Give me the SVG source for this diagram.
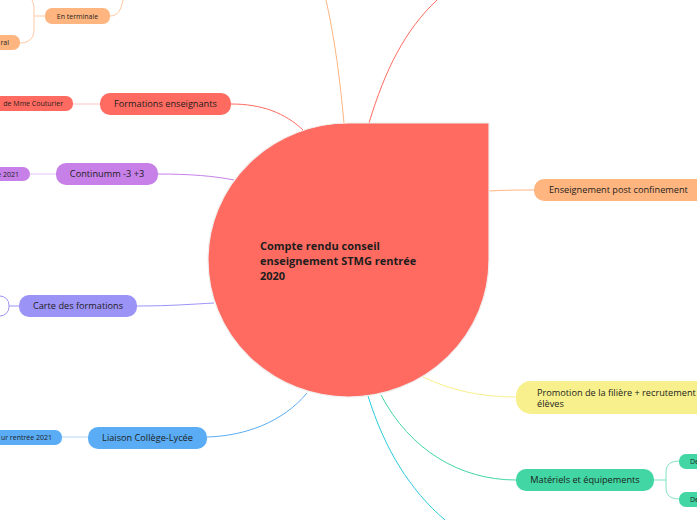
<svg xmlns="http://www.w3.org/2000/svg" width="697" height="520" viewBox="0 0 697 520">
<style>
text{font-family:"Open Sans","Noto Sans","Liberation Sans",sans-serif;fill:#1d1d1d}
.t{font-size:9.2px}
.s{font-size:7px}
.b{font-size:11px;font-weight:bold}
.c{fill:none;stroke-width:1}
</style>
<rect width="697" height="520" fill="#ffffff"/>
<g id="connectors">
<path class="c" stroke="#FFB580" d="M344,123 C340,80 335,40 326,0"/>
<path class="c" stroke="#FF6B61" d="M369,123 C385,70 405,30 437,0"/>
<path class="c" stroke="#FF6B61" d="M231,104 C262,104 285,113 303,130"/>
<path class="c" stroke="#C680E8" d="M158,174 C190,174 214,176 234,180"/>
<path class="c" stroke="#9C93F7" d="M137,306 C170,306 195,304 214,303"/>
<path class="c" stroke="#5AACF5" d="M207,437 C245,436 283,422 307,393"/>
<path class="c" stroke="#FFB580" d="M489,191 C505,190 520,190 534,190"/>
<path class="c" stroke="#F7F08C" d="M423,377 C450,390 480,397 516,397"/>
<path class="c" stroke="#41D6A3" d="M381,395 C410,450 460,480 516,480"/>
<path class="c" stroke="#2ACBDD" d="M368,396 C385,450 410,490 445,520"/>
<path class="c" stroke="#FFC7C3" d="M73,104 H100"/>
<path class="c" stroke="#E2C2F3" d="M30,174 H56"/>
<path class="c" stroke="#9C93F7" d="M9,306 H19"/>
<path class="c" stroke="#B5D7FA" d="M62,437 H88"/>
<path class="c" stroke="#7FE3C1" d="M654,480 H666 M680,461 C670,461 666,465 666,472 V488 C666,495 670,499 680,499"/>
<path class="c" stroke="#FFC9A3" d="M20,43 C29,43 34,38 34,30 V10 C34,5 33,2 32,0 M34,16 H45"/>
<path class="c" stroke="#FFC9A3" d="M110,16 C118,16 121,10 123,0"/>
</g>
<g id="central">
<path d="M349,123 H489 V260 A140.5,137 0 0 1 348.5,397 A140.5,137 0 0 1 208,260 A140.5,137 0 0 1 349,123 Z" fill="#FF6B61" stroke="#f0eded" stroke-width="1.2"/>
<text class="b" x="260" y="250">Compte rendu conseil</text>
<text class="b" x="260" y="265">enseignement STMG rentrée</text>
<text class="b" x="260" y="280">2020</text>
</g>
<g id="formations">
<rect x="100" y="93" width="131" height="22" rx="10" fill="#FF6B61"/>
<text class="t" x="165.5" y="107.3" text-anchor="middle">Formations enseignants</text>
</g>
<g id="formations-child">
<rect x="-60" y="96" width="133" height="15" rx="7" fill="#FF6B61"/>
<text class="s" x="63" y="106" text-anchor="end">de Mme Couturier</text>
</g>
<g id="continuum">
<rect x="56" y="163" width="102" height="22" rx="10" fill="#C680E8"/>
<text class="t" x="107" y="177.3" text-anchor="middle">Continumm -3 +3</text>
</g>
<g id="continuum-child">
<rect x="-60" y="167" width="90" height="14" rx="7" fill="#C680E8"/>
<text class="s" x="19" y="177" text-anchor="end">e 2021</text>
</g>
<g id="carte">
<rect x="19" y="295" width="118" height="22" rx="10" fill="#9C93F7"/>
<text class="t" x="78" y="309.3" text-anchor="middle">Carte des formations</text>
</g>
<g id="carte-child">
<rect x="-40" y="296" width="49" height="20" rx="9" fill="#ffffff" stroke="#9C93F7" stroke-width="1"/>
</g>
<g id="liaison">
<rect x="88" y="427" width="119" height="22" rx="10" fill="#5AACF5"/>
<text class="t" x="147.5" y="441.3" text-anchor="middle">Liaison Collège-Lycée</text>
</g>
<g id="liaison-child">
<rect x="-60" y="430" width="122" height="15" rx="7" fill="#5AACF5"/>
<text class="s" x="52" y="440" text-anchor="end">ur rentrée 2021</text>
</g>
<g id="enseignement">
<rect x="534" y="179" width="200" height="22" rx="10" fill="#FFB580"/>
<text class="t" x="549" y="193.3">Enseignement post confinement</text>
</g>
<g id="promotion">
<rect x="516" y="381" width="220" height="33" rx="15" fill="#F7F08C"/>
<text class="t" x="537" y="395.5">Promotion de la filière + recrutement</text>
<text class="t" x="537" y="407">élèves</text>
</g>
<g id="materiels">
<rect x="516" y="469" width="138" height="22" rx="10" fill="#41D6A3"/>
<text class="t" x="585" y="483.3" text-anchor="middle">Matériels et équipements</text>
</g>
<g id="materiels-child-1">
<rect x="679" y="454" width="60" height="15" rx="7" fill="#41D6A3"/>
<text class="s" x="690" y="464">De</text>
</g>
<g id="materiels-child-2">
<rect x="679" y="492" width="60" height="15" rx="7" fill="#41D6A3"/>
<text class="s" x="690" y="502">De</text>
</g>
<g id="terminale">
<rect x="45" y="8" width="65" height="16" rx="7" fill="#FFB580"/>
<text class="s" x="77.5" y="18.5" text-anchor="middle">En terminale</text>
</g>
<g id="general">
<rect x="-40" y="35" width="60" height="15" rx="7" fill="#FFB580"/>
<text class="s" x="9" y="45" text-anchor="end">ral</text>
</g>
</svg>
